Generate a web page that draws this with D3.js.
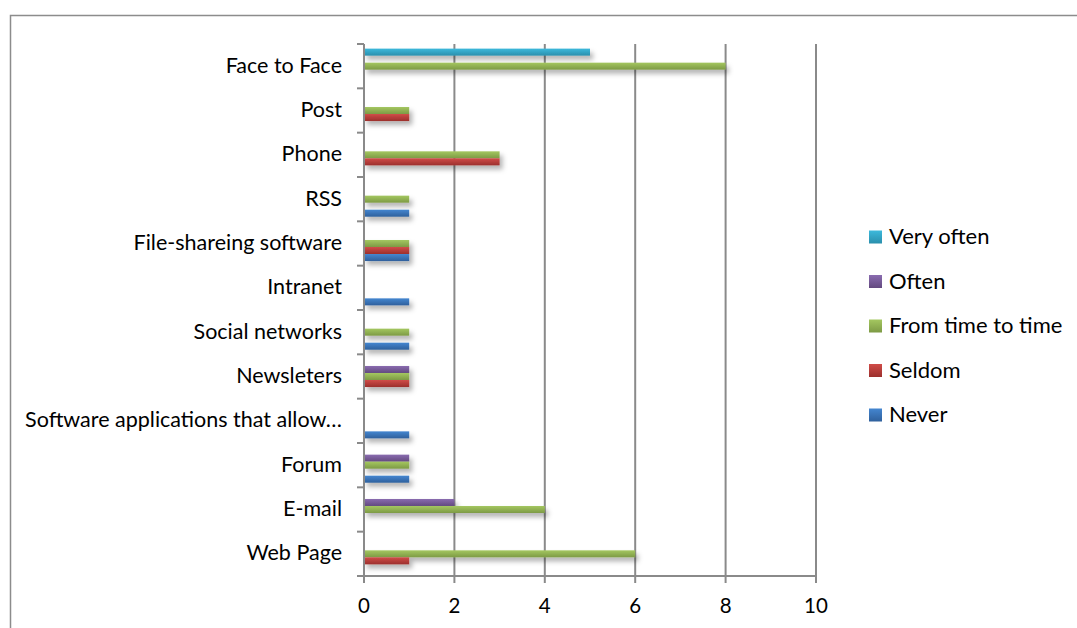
<!DOCTYPE html>
<html><head><meta charset="utf-8">
<script src="https://cdn.jsdelivr.net/npm/d3@7"></script>
<style>
html,body{margin:0;padding:0;background:#fff;}
svg{display:block;font-family:Lato, "Open Sans", sans-serif;}
</style></head>
<body><svg id="c" width="1077" height="628"></svg>
<script>
const categories = ["Face to Face","Post","Phone","RSS","File-shareing software","Intranet","Social networks","Newsleters","Software applications that allow…","Forum","E-mail","Web Page"];
const seriesNames = ["Very often","Often","From time to time","Seldom","Never"];
const veryOften     = [5,0,0,0,0,0,0,0,0,0,0,0];
const often         = [0,0,0,0,0,0,0,1,0,1,2,0];
const fromTimeToTime= [8,1,3,1,1,0,1,1,0,1,4,6];
const seldom        = [0,1,3,0,1,0,0,1,0,0,0,1];
const never         = [0,0,0,1,1,1,1,0,1,1,0,0];
const xTicks = [0,2,4,6,8,10];

const seriesValues = [veryOften, often, fromTimeToTime, seldom, never];
const colors = {
  "Very often": ["#3cb9dc","#2a8fac"],
  "Often": ["#8a6cb0","#63497f"],
  "From time to time": ["#a4c760","#7d9a45"],
  "Seldom": ["#d04c48","#9c302d"],
  "Never": ["#4486d0","#2f609c"]
};

const svg = d3.select("#c");
const defs = svg.append("defs");
seriesNames.forEach((s,i)=>{
  const g = defs.append("linearGradient").attr("id","g"+i).attr("x1",0).attr("y1",0).attr("x2",0).attr("y2",1);
  g.append("stop").attr("offset","0%").attr("stop-color",colors[s][0]);
  g.append("stop").attr("offset","100%").attr("stop-color",colors[s][1]);
});
const f = defs.append("filter").attr("id","sh").attr("x","-10%").attr("y","-50%").attr("width","130%").attr("height","250%");
f.append("feDropShadow").attr("dx",3).attr("dy",4).attr("stdDeviation",2.5).attr("flood-color","#000").attr("flood-opacity",0.3);

// chart frame
svg.append("rect").attr("x",10.5).attr("y",15.5).attr("width",1100).attr("height",700)
  .attr("fill","none").attr("stroke","#8c8c8c").attr("stroke-width",1.5);

const x = d3.scaleLinear().domain([0,10]).range([364,816]);
const y0 = d3.scaleBand().domain(categories).range([44,576]).paddingInner(0).paddingOuter(0);
const y1 = d3.scaleBand().domain(seriesNames).range([0,y0.bandwidth()]).paddingInner(0).paddingOuter(0.66);

const axisColor = "#8a8a8a";
// gridlines
svg.append("g").selectAll("line").data(xTicks.slice(1)).join("line")
  .attr("x1",d=>x(d)).attr("x2",d=>x(d)).attr("y1",44).attr("y2",583)
  .attr("stroke",axisColor).attr("stroke-width",2);

// bars
const bars = [];
categories.forEach((c,ci)=>{
  seriesNames.forEach((s,si)=>{
    const v = seriesValues[si][ci];
    if (v>0) bars.push({c,s,si,v});
  });
});
svg.append("g").attr("filter","url(#sh)").selectAll("rect").data(bars).join("rect")
  .attr("x",x(0)).attr("y",d=>y0(d.c)+y1(d.s)).attr("width",d=>x(d.v)-x(0)).attr("height",y1.bandwidth())
  .attr("fill",d=>"url(#g"+d.si+")");

// y axis line and boundary ticks
svg.append("line").attr("x1",364).attr("x2",364).attr("y1",44).attr("y2",583).attr("stroke",axisColor).attr("stroke-width",2);
const bounds = categories.map(c=>y0(c)).concat([y0.range()[1]]);
svg.append("g").selectAll("line").data(bounds).join("line")
  .attr("x1",357).attr("x2",364).attr("y1",d=>d).attr("y2",d=>d).attr("stroke",axisColor).attr("stroke-width",2);
// x axis line
svg.append("line").attr("x1",357).attr("x2",816).attr("y1",576).attr("y2",576).attr("stroke",axisColor).attr("stroke-width",2);

// category labels
svg.append("g").selectAll("text").data(categories).join("text")
  .attr("x",342).attr("y",c=>y0(c)+y0.bandwidth()/2).attr("dy","0.3em")
  .attr("text-anchor","end").attr("font-size",21.5).attr("fill","#000").text(c=>c);

// x tick labels
svg.append("g").selectAll("text").data(xTicks).join("text")
  .attr("x",d=>x(d)).attr("y",606).attr("dy","0.35em").attr("text-anchor","middle")
  .attr("font-size",20.5).attr("fill","#000").text(d=>d);

// legend
const lg = svg.append("g");
seriesNames.forEach((s,i)=>{
  const cy = 237 + i*44.5;
  lg.append("rect").attr("x",869).attr("y",cy-6.5).attr("width",13).attr("height",13).attr("fill","url(#g"+i+")");
  lg.append("text").attr("x",889).attr("y",cy).attr("dy","0.33em").attr("font-size",22).attr("fill","#000").text(s);
});
</script>
</body></html>
